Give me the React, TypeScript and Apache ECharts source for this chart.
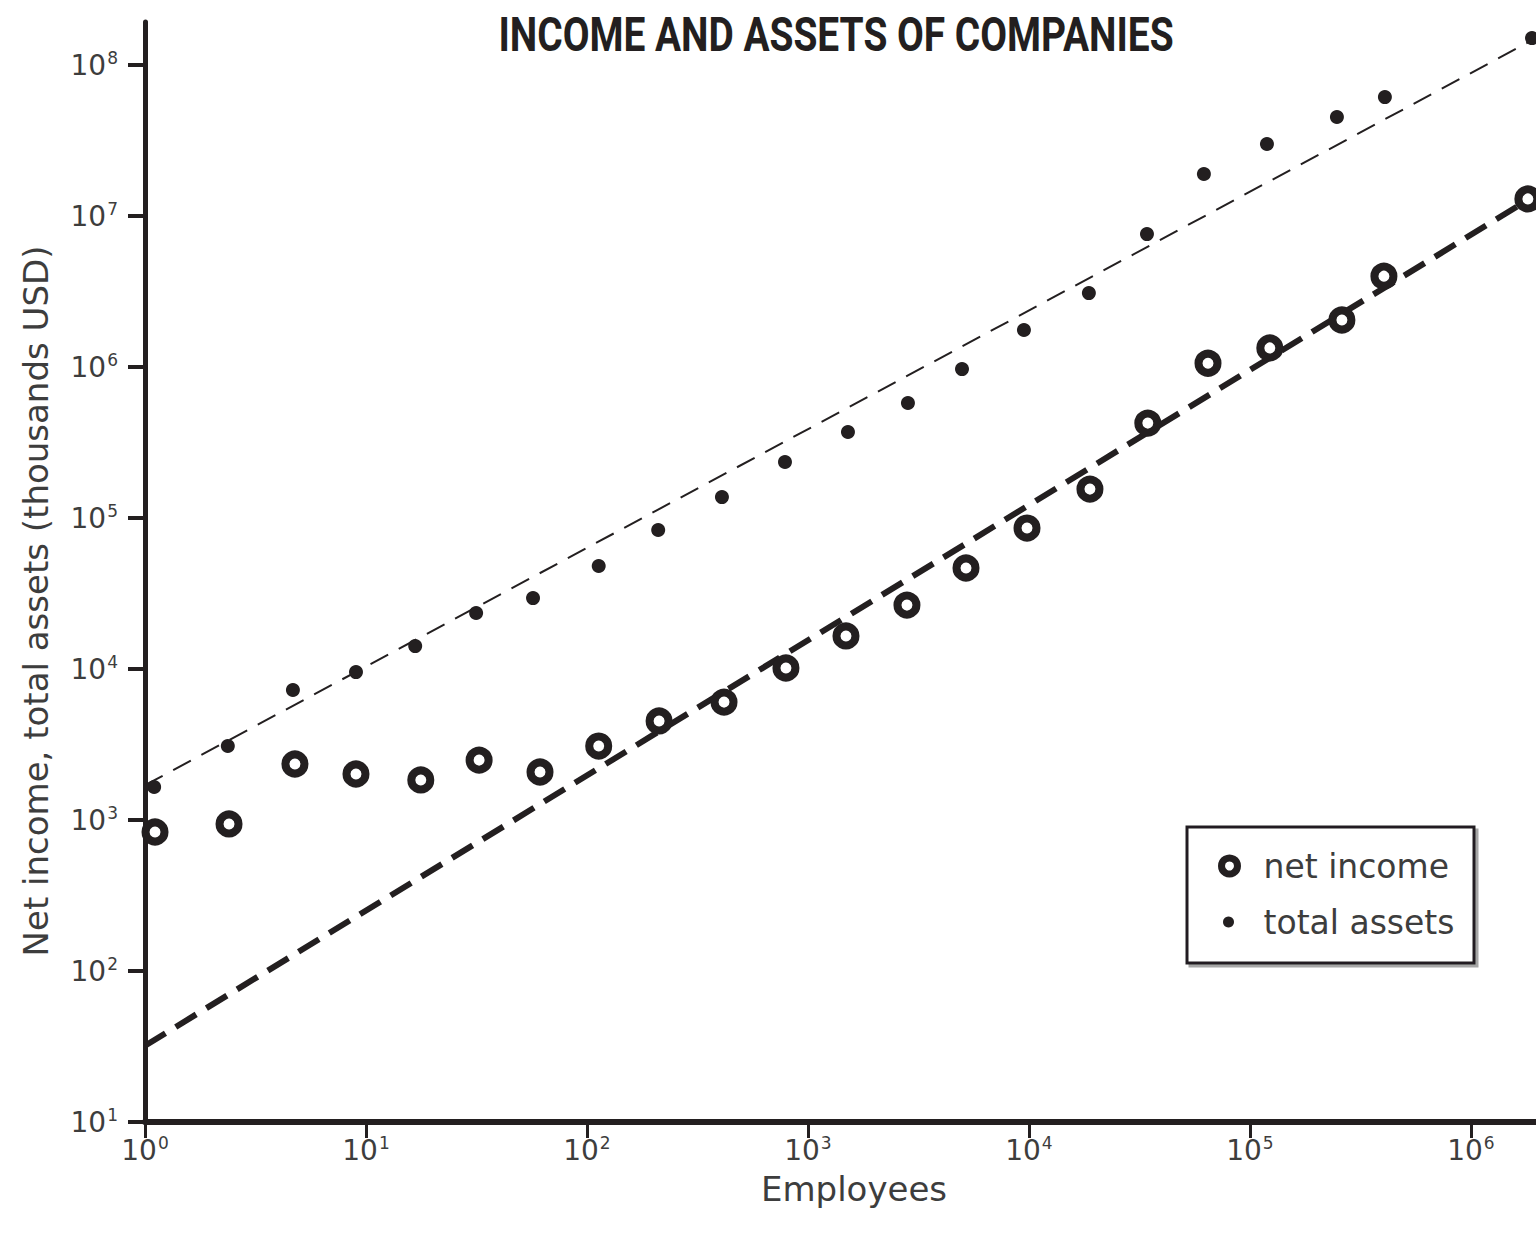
import React, { useEffect, useRef } from "react";
import * as echarts from "echarts";

const titleText = "INCOME AND ASSETS OF COMPANIES";
const xAxisName = "Employees";
const yAxisName = "Net income, total assets (thousands USD)";
const netIncomeName = "net income";
const totalAssetsName = "total assets";

const netIncomeEmployees = [1.11, 2.4, 4.77, 9.01, 17.7, 32.5, 61.3, 113, 212, 417, 795, 1486, 2805, 5190, 9800, 18880, 34500, 64600, 123000, 260700, 403900, 1810000];
const netIncomeValues = [833, 942, 2350, 2018, 1842, 2495, 2080, 3090, 4530, 6040, 10160, 16560, 26530, 46700, 85900, 155600, 425700, 1060000, 1340000, 2050000, 4000000, 13000000];

const totalAssetsEmployees = [1.1, 2.37, 4.67, 9.01, 16.7, 31.5, 57, 113, 210, 408, 787, 1517, 2834, 4977, 9490, 18670, 34200, 61900, 119400, 247500, 408000, 1890000];
const totalAssetsValues = [1656, 3090, 7260, 9550, 14190, 23500, 29500, 48100, 83400, 137700, 235000, 371600, 578000, 970000, 1760000, 3090000, 7600000, 19000000, 30000000, 45300000, 61400000, 151000000];

const netIncomeFitX = [1, 1970000];
const netIncomeFitY = [32, 13800000];
const totalAssetsFitX = [1, 1970000];
const totalAssetsFitY = [1700, 151000000];

const xTickValues = [1, 10, 100, 1000, 10000, 100000, 1000000];
const xTickExponents = ["0", "1", "2", "3", "4", "5", "6"];
const yTickValues = [10, 100, 1000, 10000, 100000, 1000000, 10000000, 100000000];
const yTickExponents = ["1", "2", "3", "4", "5", "6", "7", "8"];

const xMin = 1;
const xMax = 2610000;
const yMin = 10;
const yMax = 193000000;

const INK = "#231f20";
const TEXT = "#3d3d3d";
const FONT = "DejaVu Sans";

function zip(xs: number[], ys: number[]) {
  return xs.map((x, i) => [x, ys[i]]);
}

function tickLabel(values: number[], exps: string[]) {
  return (v: number) => {
    let idx = -1;
    for (let i = 0; i < values.length; i++) {
      if (Math.abs(Math.log10(v) - Math.log10(values[i])) < 1e-6) idx = i;
    }
    if (idx < 0) return "";
    return `{b|10}{s|${exps[idx]}}`;
  };
}

const richLabel = {
  b: { fontSize: 28, fontFamily: FONT, color: TEXT, lineHeight: 32 },
  s: { fontSize: 17, fontFamily: FONT, color: TEXT, lineHeight: 17, verticalAlign: "top", padding: [0, 0, 0, 1] },
};

export default function App() {
  const ref = useRef<HTMLDivElement>(null);
  useEffect(() => {
    if (!ref.current) return;
    const chart = echarts.init(ref.current, null, { renderer: "svg" });
    chart.setOption({
      animation: false,
      backgroundColor: "#fff",
      grid: {
        left: 145,
        right: 0,
        top: 22,
        bottom: 117,
        containLabel: false,
        outerBoundsMode: "none",
      },
      xAxis: {
        type: "log",
        logBase: 10,
        min: xMin,
        max: xMax,
        name: xAxisName,
        nameLocation: "middle",
        nameGap: 50,
        nameTextStyle: { fontFamily: FONT, fontSize: 34, color: TEXT },
        splitLine: { show: false },
        axisLine: { onZero: false, lineStyle: { color: INK, width: 6 } },
        axisTick: { customValues: xTickValues, length: 16, lineStyle: { color: INK, width: 3 } },
        axisLabel: {
          customValues: xTickValues,
          margin: 12,
          formatter: tickLabel(xTickValues, xTickExponents),
          rich: richLabel,
        },
      },
      yAxis: {
        type: "log",
        logBase: 10,
        min: yMin,
        max: yMax,
        name: yAxisName,
        nameLocation: "middle",
        nameGap: 92,
        nameTextStyle: { fontFamily: FONT, fontSize: 34, color: TEXT, padding: [0, 58, 0, 0] },
        splitLine: { show: false },
        axisLine: { onZero: false, lineStyle: { color: INK, width: 5 } },
        axisTick: { customValues: yTickValues, length: 17, lineStyle: { color: INK, width: 4 } },
        axisLabel: {
          customValues: yTickValues,
          margin: 27,
          formatter: tickLabel(yTickValues, yTickExponents),
          rich: richLabel,
        },
      },
      graphic: [
        {
          type: "text",
          x: 836,
          y: 35,
          scaleX: 0.81,
          z: 10,
          style: {
            text: titleText,
            fontFamily: "Roboto",
            fontWeight: "bold",
            fontSize: 48,
            fill: INK,
            align: "center",
            verticalAlign: "middle",
          },
        },
        {
          type: "rect",
          z: 10,
          shape: { x: 1187, y: 827, width: 287, height: 136 },
          style: {
            fill: "#fff",
            stroke: INK,
            lineWidth: 3,
            shadowColor: "rgba(0,0,0,0.35)",
            shadowOffsetX: 3,
            shadowOffsetY: 3,
            shadowBlur: 0,
          },
        },
      ],
      legend: [
        {
          data: [netIncomeName],
          left: 1218,
          top: 849,
          padding: 0,
          z: 20,
          selectedMode: false,
          itemWidth: 50,
          itemHeight: 16,
          itemStyle: { color: "#fff", borderColor: INK, borderWidth: 7 },
          textStyle: { fontFamily: FONT, fontSize: 33, color: TEXT, lineHeight: 34, padding: [0, 0, 0, 4] },
        },
        {
          data: [totalAssetsName],
          left: 1223,
          top: 905,
          padding: 0,
          z: 20,
          selectedMode: false,
          itemWidth: 50,
          itemHeight: 11,
          itemStyle: { color: INK, borderWidth: 0 },
          textStyle: { fontFamily: FONT, fontSize: 33, color: TEXT, lineHeight: 34, padding: [0, 0, 0, 5] },
        },
      ],
      series: [
        {
          name: "net income fit",
          type: "line",
          data: zip(netIncomeFitX, netIncomeFitY),
          showSymbol: false,
          silent: true,
          lineStyle: { color: INK, width: 6, type: [24, 12] },
        },
        {
          name: "total assets fit",
          type: "line",
          data: zip(totalAssetsFitX, totalAssetsFitY),
          showSymbol: false,
          silent: true,
          lineStyle: { color: INK, width: 2, type: [20, 12] },
        },
        {
          name: netIncomeName,
          type: "scatter",
          symbol: "circle",
          symbolSize: 19,
          data: zip(netIncomeEmployees, netIncomeValues),
          itemStyle: { color: "#fff", borderColor: INK, borderWidth: 8, opacity: 1 },
          z: 3,
        },
        {
          name: totalAssetsName,
          type: "scatter",
          symbol: "circle",
          symbolSize: 14,
          data: zip(totalAssetsEmployees, totalAssetsValues),
          itemStyle: { color: INK, opacity: 1 },
          z: 3,
        },
      ],
    });
    return () => chart.dispose();
  }, []);

  return (
    <div style={{ position: "fixed", left: 0, top: 0, width: 1536, height: 1239, overflow: "hidden", background: "#fff" }}>
      <div ref={ref} style={{ width: 1563, height: 1239 }} />
    </div>
  );
}
